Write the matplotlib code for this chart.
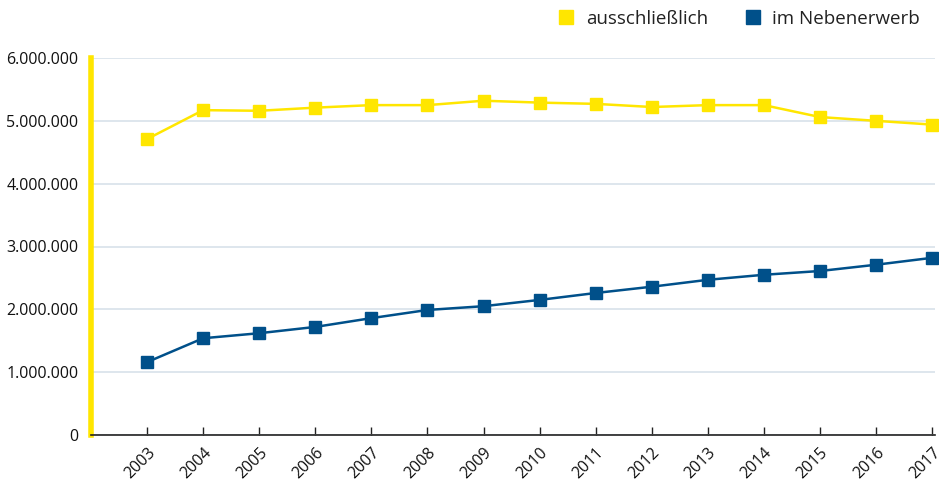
import matplotlib
matplotlib.use("Agg")
import matplotlib.pyplot as plt
from matplotlib.lines import Line2D
from matplotlib.ticker import FuncFormatter

plt.rcParams['font.family'] = ['Open Sans', 'DejaVu Sans']

years = list(range(2003, 2018))
ausschliesslich = [4.71e6, 5.17e6, 5.16e6, 5.21e6, 5.25e6, 5.25e6, 5.32e6, 5.29e6,
                   5.27e6, 5.22e6, 5.25e6, 5.25e6, 5.06e6, 5.00e6, 4.94e6]
nebenerwerb = [1.16e6, 1.54e6, 1.62e6, 1.72e6, 1.86e6, 1.99e6, 2.05e6, 2.15e6,
               2.26e6, 2.36e6, 2.47e6, 2.55e6, 2.61e6, 2.71e6, 2.82e6]
yticks = [0, 1e6, 2e6, 3e6, 4e6, 5e6, 6e6]

YELLOW = '#ffe600'
BLUE = '#00508a'
GRID = '#d8e2ea'

fig = plt.figure(figsize=(9.39, 4.8), dpi=100)
ax = fig.add_axes([91/939, 45/480, 844/939, 377/480])

ax.plot(years, ausschliesslich, color=YELLOW, lw=1.8, marker='s', ms=8.5, zorder=3, clip_on=False)
ax.plot(years, nebenerwerb, color=BLUE, lw=1.8, marker='s', ms=8.5, zorder=3, clip_on=False)

ax.set_xlim(2002, 2017.05)
ax.set_ylim(0, 6e6)
ax.set_yticks(yticks)
ax.yaxis.set_major_formatter(FuncFormatter(lambda v, p: f"{int(v):,}".replace(",", ".")))
ax.set_xticks(years)
ax.set_xticklabels([str(y) for y in years], rotation=45, ha='right', rotation_mode='anchor')

ax.grid(axis='y', color=GRID, lw=1.2)
ax.set_axisbelow(True)
for s in ['top', 'right']:
    ax.spines[s].set_visible(False)
ax.spines['left'].set_color(YELLOW)
ax.spines['left'].set_linewidth(4)
ax.spines['bottom'].set_color('#222222')
ax.spines['bottom'].set_linewidth(1.2)
ax.tick_params(axis='y', length=0, pad=9, labelsize=11.5, labelcolor='#111111')
ax.tick_params(axis='x', direction='in', length=6, width=1, color='#222222', labelsize=11.5,
               pad=7, labelcolor='#111111')

handles = [Line2D([], [], ls='none', marker='s', ms=10, color=YELLOW),
           Line2D([], [], ls='none', marker='s', ms=10, color=BLUE)]
fig.legend(handles, ['ausschließlich', 'im Nebenerwerb'], loc='upper right',
           bbox_to_anchor=(0.998, 1.015), ncol=2, frameon=False, fontsize=13.5,
           handletextpad=0.55, columnspacing=1.9, handlelength=1.0, labelcolor='#222222')

fig.savefig('out.png', dpi=100)
